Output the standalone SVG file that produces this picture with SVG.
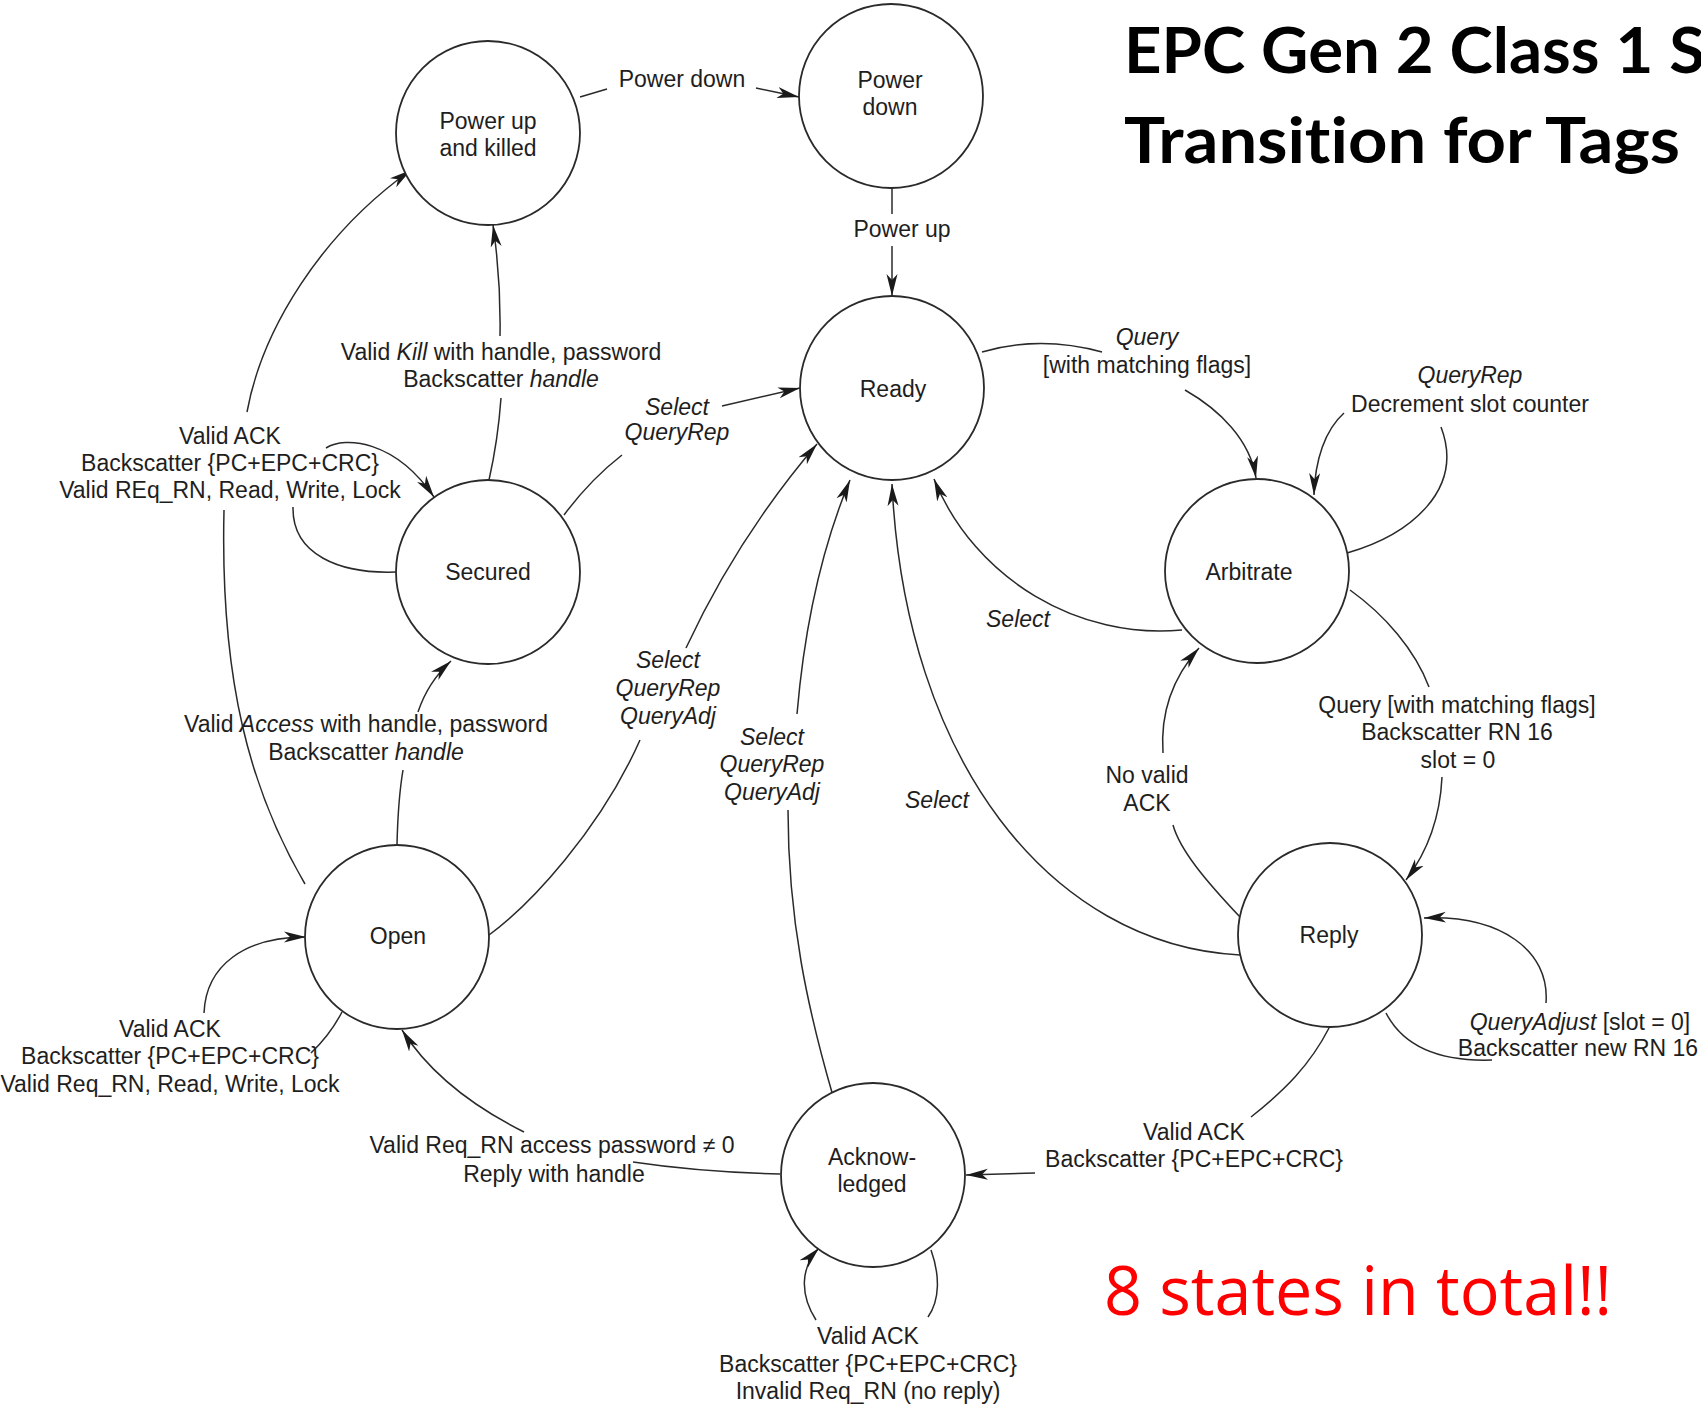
<svg xmlns="http://www.w3.org/2000/svg" width="1701" height="1404" viewBox="0 0 1701 1404">
  <style>
    .state { fill: #fff; stroke: #2a2a2a; stroke-width: 1.8; }
    .lbl { font-family: "Liberation Sans", Arial, sans-serif; font-size: 23px; fill: #1e1e1e; text-anchor: middle; }
    .it { font-style: italic; }
    .edge { fill: none; stroke: #2a2a2a; stroke-width: 1.5; }
    .head { marker-end: url(#arrow); }
    .title { font-family: Lato, "Open Sans", "Liberation Sans", sans-serif; font-weight: 700; font-size: 64px; fill: #000; font-variant-ligatures: none; font-feature-settings: "liga" 0, "dlig" 0; }
    .note { font-family: "Open Sans", "Liberation Sans", sans-serif; font-size: 67px; fill: #ff0000; }
  </style>
  <defs>
    <marker id="arrow" markerUnits="userSpaceOnUse" markerWidth="26" markerHeight="14" refX="22" refY="6" orient="auto">
      <path d="M0,0.5 L22,6 L0,11.5 L6,6 Z" fill="#1a1a1a"/>
    </marker>
  </defs>
  <rect width="1701" height="1404" fill="#fff"/>

  <!-- heading and note -->
  <text class="title" x="1124" y="73" textLength="581" lengthAdjust="spacingAndGlyphs">EPC Gen 2 Class 1 S</text>
  <text class="title" x="1124" y="163" textLength="556" lengthAdjust="spacingAndGlyphs">Transition for Tags</text>
  <text class="note" x="1104" y="1315" textLength="508" lengthAdjust="spacingAndGlyphs">8 states in total!!</text>

  <!-- transitions -->
  <g id="connectors">
    <!-- Power up and killed -> Power down -->
    <path class="edge" d="M580 97 L607 89"/>
    <path class="edge head" d="M756 88 L799 97"/>
    <!-- Power down -> Ready -->
    <path class="edge" d="M892 188 L892 214"/>
    <path class="edge head" d="M892 246 L892 296"/>
    <!-- Secured -> Power up and killed -->
    <path class="edge" d="M489 480 Q498 440 501 398"/>
    <path class="edge head" d="M500 336 Q501 280 493 225"/>
    <!-- Open -> Power up and killed -->
    <path class="edge" d="M305 884 C250 790 220 680 224 510"/>
    <path class="edge head" d="M247 412 C262 330 320 235 411 170"/>
    <!-- Secured self loop -->
    <path class="edge" d="M396 572 C340 574 292 555 293 507"/>
    <path class="edge head" d="M326 448 C345 436 395 440 434 497"/>
    <!-- Secured -> Ready -->
    <path class="edge" d="M564 515 Q590 480 622 455"/>
    <path class="edge head" d="M722 406 L800 388"/>
    <!-- Open -> Secured -->
    <path class="edge" d="M397 845 Q398 800 403 770"/>
    <path class="edge head" d="M418 712 Q428 682 451 661"/>
    <!-- Open -> Ready -->
    <path class="edge" d="M489 935 C530 905 600 830 640 740"/>
    <path class="edge head" d="M686 648 C720 575 765 505 817 444"/>
    <!-- Acknowledged -> Ready -->
    <path class="edge" d="M833 1096 C808 1010 788 920 788 810"/>
    <path class="edge head" d="M797 714 C805 620 825 540 850 480"/>
    <!-- Reply -> Ready -->
    <path class="edge head" d="M1240 955 C1050 945 905 760 892 484"/>
    <!-- Arbitrate -> Ready -->
    <path class="edge head" d="M1182 630 C1080 640 975 580 934 479"/>
    <!-- Ready -> Arbitrate -->
    <path class="edge" d="M982 352 Q1040 335 1102 352"/>
    <path class="edge head" d="M1185 390 C1220 410 1250 440 1256 478"/>
    <!-- Arbitrate self loop -->
    <path class="edge" d="M1347 553 C1410 535 1465 490 1441 427"/>
    <path class="edge head" d="M1344 413 C1325 430 1315 460 1314 495"/>
    <!-- Arbitrate -> Reply -->
    <path class="edge" d="M1350 590 C1385 615 1415 650 1429 687"/>
    <path class="edge head" d="M1442 777 C1440 820 1425 855 1406 880"/>
    <!-- Reply -> Arbitrate -->
    <path class="edge" d="M1240 917 C1205 880 1180 850 1173 825"/>
    <path class="edge head" d="M1163 753 C1160 710 1175 675 1199 648"/>
    <!-- Reply self loop -->
    <path class="edge" d="M1386 1013 C1400 1040 1430 1062 1492 1060"/>
    <path class="edge head" d="M1546 1003 C1550 950 1500 915 1424 918"/>
    <!-- Reply -> Acknowledged -->
    <path class="edge" d="M1329 1028 C1310 1065 1285 1090 1251 1117"/>
    <path class="edge head" d="M1035 1173 L966 1175"/>
    <!-- Acknowledged -> Open -->
    <path class="edge" d="M780 1174 Q700 1172 633 1162"/>
    <path class="edge head" d="M524 1132 Q440 1090 402 1030"/>
    <!-- Acknowledged self loop -->
    <path class="edge" d="M931 1250 C940 1275 940 1300 928 1317"/>
    <path class="edge head" d="M816 1320 C800 1295 800 1268 819 1248"/>
    <!-- Open self loop -->
    <path class="edge head" d="M204 1013 C206 965 245 937 306 937"/>
    <path class="edge" d="M342 1012 Q330 1035 311 1053"/>
  </g>

  <!-- transition labels -->
  <g id="edge-labels" class="lbl">
    <text x="682" y="87">Power down</text>
    <text x="902" y="237">Power up</text>
    <text x="501" y="360">Valid <tspan class="it">Kill</tspan> with handle, password</text>
    <text x="501" y="387">Backscatter <tspan class="it">handle</tspan></text>
    <text x="230" y="444">Valid ACK</text>
    <text x="230" y="471">Backscatter {PC+EPC+CRC}</text>
    <text x="230" y="498">Valid REq_RN, Read, Write, Lock</text>
    <text class="it" x="677" y="415">Select</text>
    <text class="it" x="677" y="440">QueryRep</text>
    <text x="366" y="732">Valid <tspan class="it">Access</tspan> with handle, password</text>
    <text x="366" y="760">Backscatter <tspan class="it">handle</tspan></text>
    <text class="it" x="668" y="668">Select</text>
    <text class="it" x="668" y="696">QueryRep</text>
    <text class="it" x="668" y="724">QueryAdj</text>
    <text class="it" x="772" y="745">Select</text>
    <text class="it" x="772" y="772">QueryRep</text>
    <text class="it" x="772" y="800">QueryAdj</text>
    <text class="it" x="937" y="808">Select</text>
    <text class="it" x="1018" y="627">Select</text>
    <text class="it" x="1147" y="345">Query</text>
    <text x="1147" y="373">[with matching flags]</text>
    <text class="it" x="1470" y="383">QueryRep</text>
    <text x="1470" y="412">Decrement slot counter</text>
    <text x="1457" y="713">Query [with matching flags]</text>
    <text x="1457" y="740">Backscatter RN 16</text>
    <text x="1458" y="768">slot = 0</text>
    <text x="1147" y="783">No valid</text>
    <text x="1147" y="811">ACK</text>
    <text x="1580" y="1030"><tspan class="it">QueryAdjust</tspan> [slot = 0]</text>
    <text x="1578" y="1056">Backscatter new RN 16</text>
    <text x="1194" y="1140">Valid ACK</text>
    <text x="1194" y="1167">Backscatter {PC+EPC+CRC}</text>
    <text x="552" y="1153">Valid Req_RN access password ≠ 0</text>
    <text x="554" y="1182">Reply with handle</text>
    <text x="868" y="1344">Valid ACK</text>
    <text x="868" y="1372">Backscatter {PC+EPC+CRC}</text>
    <text x="868" y="1399">Invalid Req_RN (no reply)</text>
    <text x="170" y="1037">Valid ACK</text>
    <text x="170" y="1064">Backscatter {PC+EPC+CRC}</text>
    <text x="170" y="1092">Valid Req_RN, Read, Write, Lock</text>
  </g>

  <!-- states -->
  <g id="state-killed">
    <circle class="state" cx="488" cy="133" r="92"/>
    <text class="lbl" x="488" y="129">Power up</text>
    <text class="lbl" x="488" y="156">and killed</text>
  </g>
  <g id="state-powerdown">
    <circle class="state" cx="891" cy="96" r="92"/>
    <text class="lbl" x="890" y="88">Power</text>
    <text class="lbl" x="890" y="115">down</text>
  </g>
  <g id="state-ready">
    <circle class="state" cx="892" cy="388" r="92"/>
    <text class="lbl" x="893" y="397">Ready</text>
  </g>
  <g id="state-secured">
    <circle class="state" cx="488" cy="572" r="92"/>
    <text class="lbl" x="488" y="580">Secured</text>
  </g>
  <g id="state-arbitrate">
    <circle class="state" cx="1257" cy="571" r="92"/>
    <text class="lbl" x="1249" y="580">Arbitrate</text>
  </g>
  <g id="state-open">
    <circle class="state" cx="397" cy="937" r="92"/>
    <text class="lbl" x="398" y="944">Open</text>
  </g>
  <g id="state-reply">
    <circle class="state" cx="1330" cy="935" r="92"/>
    <text class="lbl" x="1329" y="943">Reply</text>
  </g>
  <g id="state-acknowledged">
    <circle class="state" cx="873" cy="1175" r="92"/>
    <text class="lbl" x="872" y="1165">Acknow-</text>
    <text class="lbl" x="872" y="1192">ledged</text>
  </g>
</svg>
